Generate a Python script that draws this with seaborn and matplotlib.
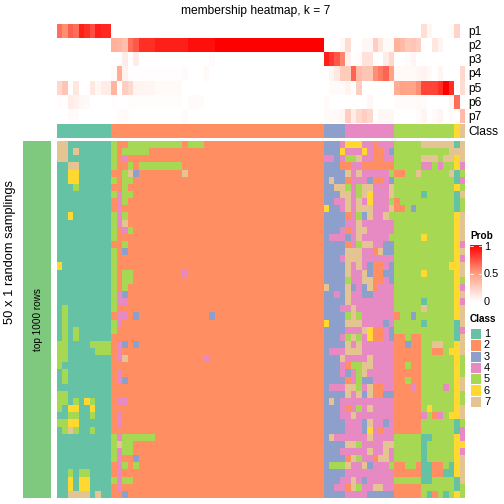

import numpy as np
import seaborn as sns
import matplotlib
matplotlib.use("Agg")
import matplotlib.pyplot as plt
from matplotlib.colors import ListedColormap, LinearSegmentedColormap

# %% data
class_names = ["1", "2", "3", "4", "5", "6", "7"]
class_colors = ["#66C2A5", "#FF8F62", "#8DA0CB", "#E78AC3", "#A6D854", "#FFD92F", "#E5C494"]
class_counts = [10, 39, 4, 9, 11, 1, 1]
row_names = ["p1", "p2", "p3", "p4", "p5", "p6", "p7"]

p1 = [.65, .55, .7, .65, .9, .85, .75, .9, .87, .87] + [0] * 57 + [.17, .05, 0, 0, 0, .03, .22, 0]
p2 = ([0] * 10 + [.4, .38, .33, .65, .72, .85, .85, .85] + [.9] * 6 + [.95] * 5 + [1] * 20
      + [0, 0, 0, .04, .18, 0, 0, .04, .04, .25, .13, .03, .03]
      + [.4, .35, .28, .3, .25, 0, 0, .13, .06, 0, 0, 0, 0])
p3 = ([0] * 12 + [.1, 0, .1] + [0] * 13 + [.02] + [0] * 20
      + [.9, .82, .72, .58, .07, .01, .02, .15, .15, 0, 0, .1, .2]
      + [0, 0, .02, .05, 0, 0, 0, 0, 0, 0, 0, 0, 0])
p4 = ([0] * 10 + [.02, .42, .07] + [.01] * 10 + [.02] + [0] * 3 + [.03] + [0] * 21
      + [0, .05, .12, .27, .27, .68, .35, .3, .3, .55, .62, .68, .48]
      + [.03, .03, .03, .03, .05, .06, .03, 0, .05, 0, 0, 0, .2])
p5 = ([.2, .3, .01, .13, 0, 0, .12, .05, .1, .1] + [.38, 0, .25, .2, .06, .06, .05, .05] + [.03] * 5 + [0] * 26
      + [0, .02, .02, .02, .06, 0, .25, 0, 0, 0, 0, 0, 0]
      + [.42, .48, .47, .47, .55, .78, .78, .78, .85, 1, .85, 0, .18])
p6 = ([.02, .01, .1, .07, .04, .03, 0, 0, 0, 0] + [.01, 0, 0] + [.015] * 10 + [0] + [.02] * 3 + [0] * 22
      + [.02, 0, 0, 0, 0, 0, 0, .01, .04, 0, 0, 0, 0]
      + [.02, .02, .02, .02, .03, .02, 0, 0, 0, 0, .05, .65, .02])
p7 = ([0, 0, .02, .02, 0, 0, 0, 0, 0, 0] + [0, .02, .03, .01] + [0] * 9 + [.02] + [0] * 25
      + [.02, .03, .03, .05, .25, .1, .2, .25, .2, 0, .04, .04, .04]
      + [0, 0, 0, 0, .02, .06, 0, .03, .05, 0, .02, 0, .35])

# membership per sampling, split by the column groups
block_a = [
    "7711111111", "7717111111", "7711111111", "1177111111", "1166111111",
    "1166111111", "1115111111", "1111111111", "1111111111", "1111111111",
    "1161111111", "1111111111", "1111111111", "1111111111", "1111111111",
    "1111111111", "1111111111", "6111111111", "1111111111", "1111111111",
    "1111111111", "1111111111", "1111111111", "1511111111", "1511111111",
    "1511111111", "1515111111", "1515111111", "5511115555", "5511111555",
    "5511111111", "5111111111", "1511111111", "1511111111", "1111111111",
    "5511111111", "5515165111", "5166116111", "1155115111", "5566111111",
    "1575115111", "1111111111", "1111111111", "1111111111", "1111111111",
    "1111111111", "1151551111", "1161661111", "1161661111", "1177771711",
]
# only the start of each row, the rest is class 2
block_b = [
    "52255555555552555", "5255555", "524", "5225255555555", "22573222222227",
    "5255", "225", "5455", "245", "24",
    "545", "547", "5245", "5", "225",
    "523", "5", "5", "52552222222224", "5255",
    "525", "543", "544", "5", "2442322222222222223",
    "54", "5", "", "24323", "24",
    "247222222222222224", "", "24", "243", "",
    "", "244", "", "24", "24",
    "", "54555555", "5755", "5455", "54223",
    "24525", "24", "5455", "24", "223",
]
block_c = [
    "3334666442444", "3336444642243", "4434557442244", "3332244222222", "3333747444445",
    "3733244432243", "3377545774447", "3337745764447", "3344747464445", "6334747774447",
    "3333245374475", "3333447444444", "3334247744444", "3444347444445", "3333245774433",
    "3333777442733", "3334777444444", "3333747432243", "3333744732233", "3333544772243",
    "7333734372444", "3343744334444", "3333744444444", "3334474444444", "3333575444444",
    "6333777444434", "3333444762243", "3334575462243", "3333747444444", "3444777444444",
    "3337444474444", "3334255774444", "3334345744444", "3333245334444", "3444775472244",
    "3333747372233", "3734444444444", "3334245474444", "3334474444444", "3333444374434",
    "3333444364244", "3744444474444", "3333775444477", "3334444474474", "3333275442774",
    "3555744734445", "3333444444444", "3334474344444", "3344275447744", "3333444433333",
]
block_d = [
    "5555577777717", "5555555555777", "5555577757767", "5555544545564", "2255755555715",
    "5555555555514", "5555555555565", "5555515555517", "2555555555515", "2253555555515",
    "5555555555567", "5555555555567", "5555555555567", "5555565555567", "5555555555564",
    "5555555555567", "5555555555564", "5555555555667", "5555565555567", "5555555555565",
    "5555555555564", "5555555555567", "5555515555564", "5555575555567", "2553555555567",
    "5555515555517", "5555555555514", "2252255555517", "2232255775567", "2222255225667",
    "2222255555565", "2252255555565", "2222255555565", "2252255555567", "2224255554567",
    "2222255555565", "2222255555565", "2222256555567", "2222245245667", "2222255555515",
    "2222255555514", "5555511555564", "5555515555566", "5555515555564", "5555515555567",
    "2255211225167", "2222211221167", "5555511555517", "2222255555515", "2222251251565",
]

# %% helpers
plt.rcParams["font.family"] = ["Liberation Sans", "DejaVu Sans"]
W, H = 504, 504


def px_axes(x0, y0, x1, y1):
    # pixel box, y measured from the top
    return fig.add_axes([x0 / W, 1 - y1 / H, (x1 - x0) / W, (y1 - y0) / H])


def px_text(x, y, s, **kw):
    fig.text(x / W, 1 - y / H, s, **kw)


prob_cmap = LinearSegmentedColormap.from_list("prob", ["#FFFFFF", "#FF9E81", "#FF0000"])
class_cmap = ListedColormap(class_colors)

prob = np.array([p1, p2, p3, p4, p5, p6, p7])
top_class = np.repeat(np.arange(1, 8), class_counts).reshape(1, -1)
rows = [a + b.ljust(39, "2") + c + d for a, b, c, d in zip(block_a, block_b, block_c, block_d)]
main = np.array([[int(ch) for ch in row] for row in rows])

# %% draw
fig = plt.figure(figsize=(7, 7), dpi=72)

ax_prob = px_axes(57, 24, 465, 123)
ax_cbar = px_axes(470, 245, 482, 302)
sns.heatmap(prob, ax=ax_prob, cmap=prob_cmap, vmin=0, vmax=1, cbar_ax=ax_cbar,
            xticklabels=False, yticklabels=False)
ax_cbar.set_yticks([])
for spine in ax_cbar.spines.values():
    spine.set_visible(False)
for v in [0.975, 0.5]:
    ax_cbar.plot([0, 0.25], [v, v], color="white", lw=0.8, transform=ax_cbar.get_yaxis_transform())
    ax_cbar.plot([0.75, 1], [v, v], color="white", lw=0.8, transform=ax_cbar.get_yaxis_transform())

ax_top = px_axes(57, 124, 465, 138)
sns.heatmap(top_class, ax=ax_top, cmap=class_cmap, vmin=0.5, vmax=7.5, cbar=False,
            xticklabels=False, yticklabels=False)

ax_main = px_axes(57, 141, 465, 498)
sns.heatmap(main, ax=ax_main, cmap=class_cmap, vmin=0.5, vmax=7.5, cbar=False,
            xticklabels=False, yticklabels=False)

ax_side = px_axes(23, 141, 51, 498)
sns.heatmap(np.zeros((1, 1)), ax=ax_side, cmap=ListedColormap(["#7FC97F"]), cbar=False,
            xticklabels=False, yticklabels=False)

ax_leg = px_axes(470, 328, 481, 407)
sns.heatmap(np.arange(1, 8).reshape(-1, 1), ax=ax_leg, cmap=class_cmap, vmin=0.5, vmax=7.5, cbar=False,
            linewidths=1, linecolor="white", xticklabels=False, yticklabels=False)

# %% text
px_text(255.5, 11, "membership heatmap, k = 7", ha="center", va="center", fontsize=12)
for i, name in enumerate(row_names):
    px_text(468, 32 + 14.15 * i, name, ha="left", va="center", fontsize=12)
px_text(468, 132, "Class", ha="left", va="center", fontsize=12)
px_text(10, 252, "50 x 1 random samplings", rotation=90, ha="center", va="center", fontsize=12.9)
px_text(38, 320, "top 1000 rows", rotation=90, ha="center", va="center", fontsize=10)

px_text(470, 236, "Prob", ha="left", va="center", fontsize=10, fontweight="bold")
px_text(484, 247, "1", ha="left", va="center", fontsize=11)
px_text(484, 274, "0.5", ha="left", va="center", fontsize=11)
px_text(484, 302, "0", ha="left", va="center", fontsize=11)
px_text(470, 319, "Class", ha="left", va="center", fontsize=10, fontweight="bold")
for i, name in enumerate(class_names):
    px_text(484, 334 + 11.3 * i, name, ha="left", va="center", fontsize=11)

fig.savefig("out.png", dpi=72)
